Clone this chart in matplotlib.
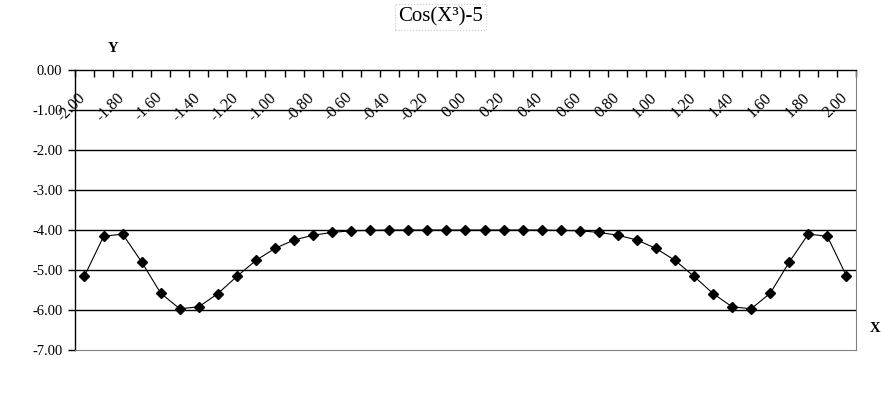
import matplotlib
matplotlib.use("Agg")
import matplotlib.pyplot as plt
import numpy as np

plt.rcParams['font.family'] = ['Liberation Serif', 'DejaVu Serif']

# data
x_labels = ["-2.00", "-1.90", "-1.80", "-1.70", "-1.60", "-1.50", "-1.40",
            "-1.30", "-1.20", "-1.10", "-1.00", "-0.90", "-0.80", "-0.70",
            "-0.60", "-0.50", "-0.40", "-0.30", "-0.20", "-0.10", "0.00",
            "0.10", "0.20", "0.30", "0.40", "0.50", "0.60", "0.70", "0.80",
            "0.90", "1.00", "1.10", "1.20", "1.30", "1.40", "1.50", "1.60",
            "1.70", "1.80", "1.90", "2.00"]
y_vals = [-5.15, -4.16, -4.10, -4.80, -5.58, -5.97, -5.92, -5.59, -5.16,
          -4.76, -4.46, -4.25, -4.13, -4.06, -4.02, -4.01, -4.00, -4.00,
          -4.00, -4.00, -4.00, -4.00, -4.00, -4.00, -4.00, -4.01, -4.02,
          -4.06, -4.13, -4.25, -4.46, -4.76, -5.16, -5.59, -5.92, -5.97,
          -5.58, -4.80, -4.10, -4.16, -5.15]
y_ticks = [0, -1, -2, -3, -4, -5, -6, -7]

fig = plt.figure(figsize=(8.81, 3.94), dpi=100)
ax = fig.add_axes([0.0851, 0.1117, 0.8865, 0.7106])

pos = np.arange(len(x_labels))

# horizontal gridlines
for v in y_ticks[1:-1]:
    ax.axhline(v, color='black', lw=1.0, zorder=1)

ax.plot(pos, y_vals, color='black', lw=0.8, marker='D', markersize=5.5,
        markerfacecolor='black', markeredgecolor='black', zorder=3)

ax.set_xlim(-0.5, len(x_labels) - 0.5)
ax.set_ylim(-7, 0)

# y axis
ax.set_yticks(y_ticks)
ax.set_yticklabels(["%.2f" % v for v in y_ticks], fontsize=10.5)
ax.tick_params(axis='y', direction='out', length=5, width=1, color='black', pad=4)

# category axis along the top (y = 0)
ax.set_xticks(np.arange(len(x_labels) + 1) - 0.5)
ax.set_xticklabels([])
ax.tick_params(axis='x', bottom=False, top=True, direction='in', length=5,
               width=1, color='black', labelbottom=False, labeltop=False)

for i in range(0, len(x_labels), 2):
    ax.text(pos[i] - 0.05, 0.91, x_labels[i], transform=ax.get_xaxis_transform(),
            rotation=45, rotation_mode='anchor', ha='right', va='center',
            fontsize=11.5, clip_on=False)

for side in ['top', 'left']:
    ax.spines[side].set_color('black')
    ax.spines[side].set_linewidth(1.0)
for side in ['right', 'bottom']:
    ax.spines[side].set_color('#808080')
    ax.spines[side].set_linewidth(0.8)

fig.text(0.5, 1 - 17 / 394, "Cos(X\u00b3)-5", ha='center', va='center', fontsize=15,
         bbox=dict(boxstyle='square,pad=0.15', facecolor='white',
                   edgecolor='#c8c8c8', linestyle=':', linewidth=0.8))
fig.text(113 / 881, 1 - 48 / 394, "Y", ha='center', va='center',
         fontsize=10.5, fontweight='bold')
fig.text(875 / 881, 1 - 329 / 394, "X", ha='center', va='center',
         fontsize=10.5, fontweight='bold')

fig.savefig("out.png", dpi=100)
